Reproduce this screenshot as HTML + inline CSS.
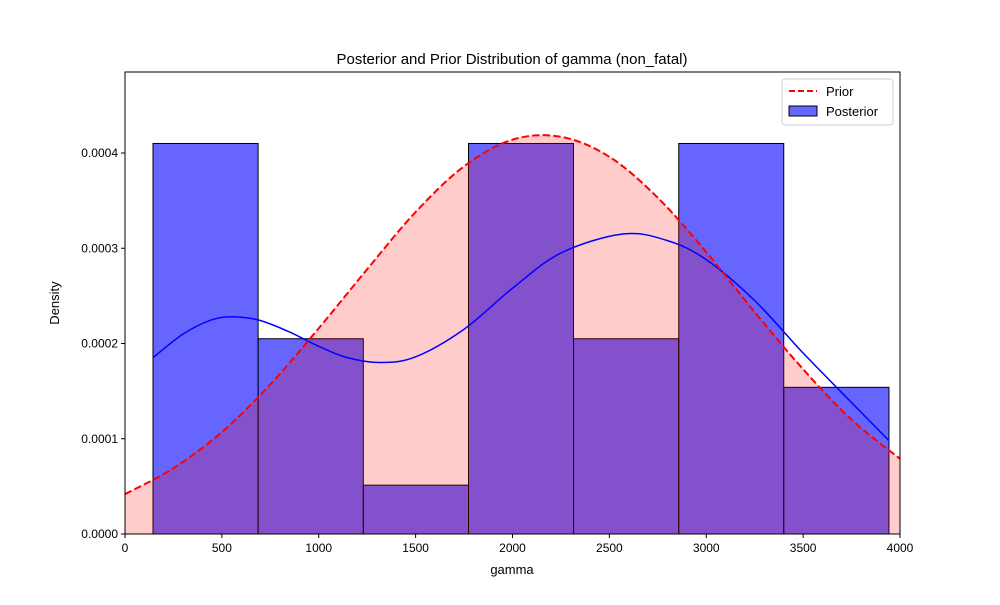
<!DOCTYPE html>
<html><head><meta charset="utf-8"><style>
body{margin:0;background:#fff}
svg text{font-family:"Liberation Sans","DejaVu Sans",sans-serif;fill:#000}
</style></head><body>
<svg width="1000" height="600" viewBox="0 0 1000 600">
<rect width="1000" height="600" fill="#fff"/>
<g id="plot"></g>
<text x="512" y="64" text-anchor="middle" font-size="15">Posterior and Prior Distribution of gamma (non_fatal)</text>
<text x="512" y="574" text-anchor="middle" font-size="13">gamma</text>
<text x="59" y="303" text-anchor="middle" font-size="13" transform="rotate(-90 59 303)">Density</text>
<g>
<rect x="782" y="79" width="111" height="46" fill="#fff" stroke="#ccc" rx="3"/>
<line x1="789" y1="91" x2="817" y2="91" stroke="red" stroke-width="2" stroke-dasharray="6,3"/>
<text x="826" y="96" font-size="13">Prior</text>
<rect x="789" y="106" width="28" height="10" fill="#6666ff" stroke="#000" stroke-width="1"/>
<text x="826" y="116" font-size="13">Posterior</text>
</g>
</svg>
<script>
const binEdges=[144.5,687,1230,1773,2315,2858,3400,3943];
const binHeights=[0.00041,0.000205,0.0000513,0.00041,0.000205,0.00041,0.000154];
const priorX=[0,250,500,750,1000,1250,1500,1750,2000,2250,2500,2750,3000,3250,3500,3750,4000];
const priorY=[0.0000418,0.0000691,0.000107,0.000157,0.000216,0.000278,0.000338,0.000386,0.000414,0.000417,0.000396,0.000353,0.000296,0.000233,0.000173,0.000120,0.000079];
const kdeX=[144,300,450,570,700,850,1000,1150,1320,1500,1750,2000,2250,2570,2800,3000,3250,3500,3750,3943];
const kdeY=[0.000185,0.000210,0.000225,0.000228,0.000224,0.000212,0.000197,0.000185,0.000180,0.000186,0.000215,0.000258,0.000295,0.000315,0.000308,0.000288,0.000245,0.000190,0.000138,0.000098];
const xTicks=[0,500,1000,1500,2000,2500,3000,3500,4000];
const yTicks=[0,0.0001,0.0002,0.0003,0.0004];
const yTickLabels=["0.0000","0.0001","0.0002","0.0003","0.0004"];
const L=125,R=900,T=72,B=534;
const sx=v=>L+v/4000*(R-L);
const sy=v=>B-v/0.0004*381;
const NS="http://www.w3.org/2000/svg";
const g=document.getElementById('plot');
function mk(t,a){const e=document.createElementNS(NS,t);for(const k in a)e.setAttribute(k,a[k]);g.appendChild(e);return e;}
function smooth(xs,ys){let pts=xs.map((x,i)=>[sx(x),sy(ys[i])]);let d="M"+pts[0][0]+","+pts[0][1];
for(let i=0;i<pts.length-1;i++){const p0=pts[Math.max(0,i-1)],p1=pts[i],p2=pts[i+1],p3=pts[Math.min(pts.length-1,i+2)];
d+=" C"+(p1[0]+(p2[0]-p0[0])/6)+","+(p1[1]+(p2[1]-p0[1])/6)+" "+(p2[0]-(p3[0]-p1[0])/6)+","+(p2[1]-(p3[1]-p1[1])/6)+" "+p2[0]+","+p2[1];}return d;}
const pd=smooth(priorX,priorY);
binHeights.forEach((h,i)=>{const x0=sx(binEdges[i]),x1=sx(binEdges[i+1]);
const r=mk('rect',{x:x0,y:sy(h),width:x1-x0,height:B-sy(h),fill:"rgba(0,0,255,0.6)",stroke:"#000","stroke-width":1});

});
let e=mk('path',{d:pd+" L"+sx(4000)+","+B+" L"+sx(0)+","+B+" Z",fill:"rgba(255,0,0,0.2)",stroke:"none"});


e=mk('path',{d:smooth(kdeX,kdeY),fill:"none",stroke:"blue","stroke-width":1.5});


e=mk('path',{d:pd,fill:"none",stroke:"red","stroke-width":2,"stroke-dasharray":"7.4,3.2"});


e=mk('rect',{x:L,y:T,width:R-L,height:B-T,fill:"none",stroke:"#000","stroke-width":1});


xTicks.forEach(v=>{const x=sx(v);
const l=mk('line',{x1:x,y1:B,x2:x,y2:B+4,stroke:"#000"});


const t=mk('text',{x:x,y:B+18,"text-anchor":"middle","font-size":12});t.textContent=v;

});
yTicks.forEach((v,i)=>{const y=sy(v);
const l=mk('line',{x1:L-4,y1:y,x2:L,y2:y,stroke:"#000"});


const t=mk('text',{x:L-7,y:y+4,"text-anchor":"end","font-size":12});t.textContent=yTickLabels[i];

});
</script>
</body></html>
